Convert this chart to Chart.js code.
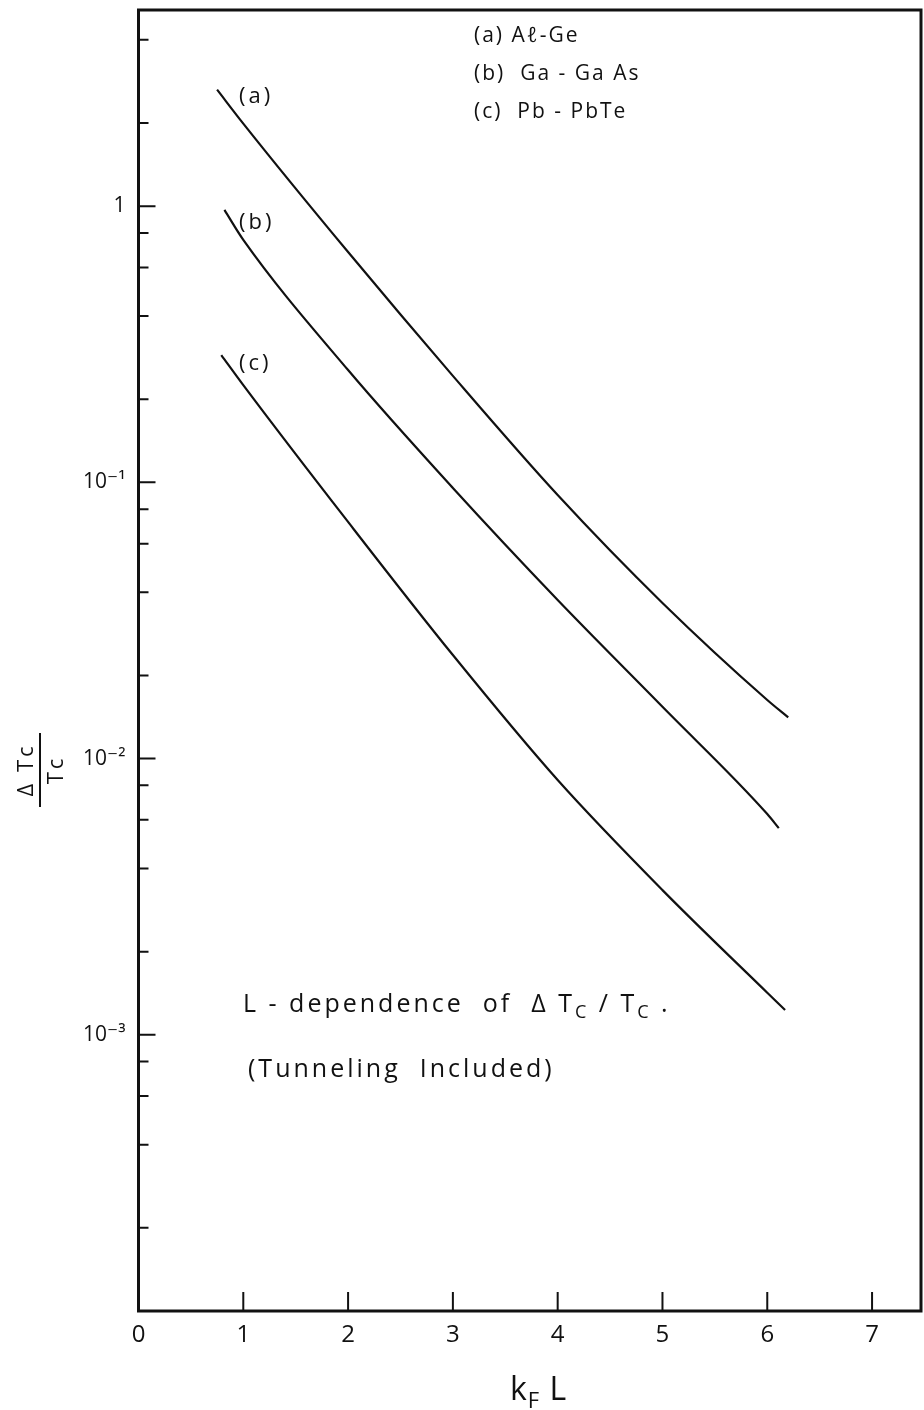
<!DOCTYPE html>
<html lang="en">
<head>
<meta charset="UTF-8" />
<title>L-dependence of ΔTc/Tc</title>
<style>
  html, body { margin: 0; padding: 0; background: #fff; }
  #wrap { width: 924px; height: 1410px; }
</style>
<script src="https://cdn.jsdelivr.net/npm/chart.js"></script>
</head>
<body>
<div id="wrap"><canvas id="chart" width="924" height="1410"></canvas></div>
<script>
// curve values (kF L, delta Tc / Tc)
const kfL_a = [0.75, 1, 2, 3, 4, 5, 6, 6.2];
const tc_a = [2.64, 1.99, 0.682, 0.243, 0.090, 0.0366, 0.0163, 0.0141];
const kfL_b = [0.82, 1, 2, 3, 4, 5, 6, 6.11];
const tc_b = [0.969, 0.755, 0.255, 0.0954, 0.0375, 0.0154, 0.0063, 0.0056];
const kfL_c = [0.79, 1, 2, 3, 4, 5, 6, 6.17];
const tc_c = [0.289, 0.225, 0.0719, 0.0237, 0.00836, 0.00334, 0.00142, 0.00123];

const curveNames = ["(a)", "(b)", "(c)"];
const legendLines = ["(a) Aℓ-Ge", "(b)  Ga - Ga As", "(c)  Pb - PbTe"];

const xTicks = [0, 1, 2, 3, 4, 5, 6, 7];
const yMajor = [1, 0.1, 0.01, 0.001];
const yMajorLabels = ["1", "10⁻¹", "10⁻²", "10⁻³"];
const yMinor = [2e-4, 4e-4, 6e-4, 8e-4, 2e-3, 4e-3, 6e-3, 8e-3,
  0.02, 0.04, 0.06, 0.08, 0.2, 0.4, 0.6, 0.8, 2, 4];

const INK = "#111";
const FONT = "'Open Sans', 'DejaVu Sans', sans-serif";

function pts(xs, ys) {
  return xs.map((x, i) => ({ x: x, y: ys[i] }));
}

function isMajor(v) {
  return yMajor.some((m) => Math.abs(Math.log10(v) - Math.log10(m)) < 1e-6);
}

// draws text pieces one after the other (for sub/superscripts)
function drawRich(ctx, x, y, parts, spacing) {
  ctx.save();
  ctx.letterSpacing = (spacing || 0) + "px";
  ctx.textAlign = "left";
  ctx.textBaseline = "alphabetic";
  let cx = x;
  parts.forEach((p) => {
    ctx.font = p.size + "px " + FONT;
    ctx.fillText(p.t, cx, y + (p.dy || 0));
    cx += ctx.measureText(p.t).width;
  });
  ctx.restore();
}

const decorPlugin = {
  id: "decor",
  afterDraw(chart) {
    const ctx = chart.ctx;
    const area = chart.chartArea;
    const xs = chart.scales.x;
    const ys = chart.scales.y;
    ctx.save();
    ctx.strokeStyle = INK;
    ctx.fillStyle = INK;

    // frame
    ctx.lineWidth = 3;
    ctx.strokeRect(area.left, area.top, area.right - area.left, area.bottom - area.top);

    // inward tick marks
    ctx.lineWidth = 2;
    ctx.beginPath();
    ys.ticks.forEach((t) => {
      const py = ys.getPixelForValue(t.value);
      const len = isMajor(t.value) ? 17 : 10;
      ctx.moveTo(area.left, py);
      ctx.lineTo(area.left + len, py);
    });
    xTicks.forEach((v) => {
      if (v === 0) return;
      const px = xs.getPixelForValue(v);
      ctx.moveTo(px, area.bottom);
      ctx.lineTo(px, area.bottom - 19);
    });
    ctx.stroke();

    // curve labels
    ctx.font = "22px " + FONT;
    ctx.textBaseline = "middle";
    ctx.textAlign = "left";
    ctx.letterSpacing = "3px";
    const labelAt = [[kfL_a[0], tc_a[0]], [kfL_b[0], tc_b[0]], [kfL_c[0], tc_c[0]]];
    const labelOff = [7, 13, 9];
    curveNames.forEach((n, i) => {
      const py = ys.getPixelForValue(labelAt[i][1]) + labelOff[i];
      ctx.fillText(n, 239, py);
    });

    // legend text
    ctx.font = "21px " + FONT;
    ctx.letterSpacing = "2px";
    legendLines.forEach((s, i) => {
      ctx.fillText(s, 474, 36 + i * 38);
    });

    // annotation
    drawRich(ctx, 243, 1012, [
      { t: "L - dependence  of  Δ T", size: 25 },
      { t: "C", size: 18, dy: 6 },
      { t: " / T", size: 25 },
      { t: "C", size: 18, dy: 6 },
      { t: " .", size: 25 },
    ], 3);
    drawRich(ctx, 248, 1077, [{ t: "(Tunneling  Included)", size: 25 }], 3);

    // x title  kF L
    drawRich(ctx, 510, 1400, [
      { t: "k", size: 32 },
      { t: "F", size: 22, dy: 8 },
      { t: " L", size: 32 },
    ], 1);

    // y title as a fraction, rotated
    ctx.translate(40, 770);
    ctx.rotate(-Math.PI / 2);
    ctx.textAlign = "center";
    ctx.textBaseline = "alphabetic";
    ctx.font = "22px " + FONT;
    ctx.letterSpacing = "3px";
    ctx.fillText("Δ Tc", 0, -7);
    ctx.fillText("Tc", 0, 23);
    ctx.lineWidth = 2;
    ctx.beginPath();
    ctx.moveTo(-37, 0);
    ctx.lineTo(37, 0);
    ctx.stroke();
    ctx.restore();
  },
};

const lineStyle = {
  borderColor: INK,
  borderWidth: 2.2,
  pointRadius: 0,
  fill: false,
  cubicInterpolationMode: "monotone",
};

new Chart(document.getElementById("chart"), {
  type: "line",
  data: {
    datasets: [
      Object.assign({ label: legendLines[0], data: pts(kfL_a, tc_a) }, lineStyle),
      Object.assign({ label: legendLines[1], data: pts(kfL_b, tc_b) }, lineStyle),
      Object.assign({ label: legendLines[2], data: pts(kfL_c, tc_c) }, lineStyle),
    ],
  },
  options: {
    responsive: false,
    animation: false,
    layout: { padding: { top: 10, right: 3, left: 0, bottom: 0 } },
    plugins: {
      legend: { display: false },
      tooltip: { enabled: false },
    },
    scales: {
      x: {
        type: "linear",
        min: 0,
        max: 7.467,
        afterFit: (s) => {
          s.height = 99;
          s.paddingLeft = 0;
          s.paddingRight = 0;
        },
        afterBuildTicks: (s) => { s.ticks = xTicks.map((v) => ({ value: v })); },
        grid: { display: false, drawTicks: false },
        border: { display: false },
        ticks: {
          autoSkip: false,
          maxRotation: 0,
          padding: 10,
          color: INK,
          font: { family: FONT, size: 24 },
          callback: (v) => String(v),
        },
      },
      y: {
        type: "logarithmic",
        min: 1e-4,
        max: 5.13,
        afterFit: (s) => {
          s.width = 138.5;
          s.paddingTop = 0;
          s.paddingBottom = 0;
        },
        afterBuildTicks: (s) => {
          s.ticks = yMajor.concat(yMinor).sort((p, q) => p - q).map((v) => ({ value: v }));
        },
        grid: { display: false, drawTicks: false },
        border: { display: false },
        ticks: {
          autoSkip: false,
          padding: 13,
          color: INK,
          font: { family: FONT, size: 21 },
          callback: (v) => {
            const i = yMajor.findIndex((m) => Math.abs(Math.log10(v) - Math.log10(m)) < 1e-6);
            return i >= 0 ? yMajorLabels[i] : "";
          },
        },
      },
    },
  },
  plugins: [decorPlugin],
});
</script>
</body>
</html>
